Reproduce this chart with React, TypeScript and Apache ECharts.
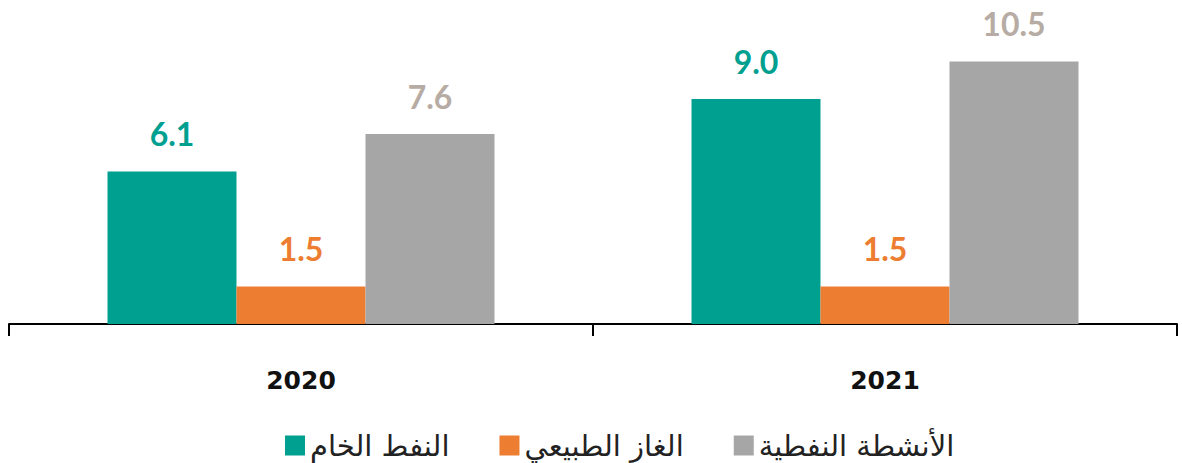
import React, { useEffect, useRef } from "react";
import * as echarts from "echarts";

const years = ["2020", "2021"];
const seriesNames = ["النفط الخام", "الغاز الطبيعي", "الأنشطة النفطية"];
const crudeOil = [6.1, 9.0];
const naturalGas = [1.5, 1.5];
const oilActivities = [7.6, 10.5];

const barColors = ["#00A090", "#ED7D31", "#A6A6A6"];
const labelColors = ["#00A090", "#ED7D31", "#B7ACA3"];

export default function App() {
  const ref = useRef<HTMLDivElement>(null);
  useEffect(() => {
    if (!ref.current) return;
    const chart = echarts.init(ref.current, null, { renderer: "svg" });
    const data = [crudeOil, naturalGas, oilActivities];
    chart.setOption({
      animation: false,
      grid: { left: 9, right: 5, top: 24, bottom: 139, containLabel: false },
      legend: {
        data: seriesNames,
        top: 426,
        left: 280,
        itemWidth: 20,
        itemHeight: 20,
        itemGap: 50,
        textStyle: { fontFamily: "DejaVu Sans", fontSize: 29, color: "#222" },
        icon: "rect",
      },
      xAxis: {
        type: "category",
        data: years,
        axisLine: { show: true, lineStyle: { color: "#000", width: 2 } },
        axisTick: { show: true, inside: false, length: 12, lineStyle: { color: "#000", width: 2 } },
        axisLabel: {
          margin: 44,
          fontFamily: "DejaVu Sans",
          fontWeight: "bold",
          fontSize: 25,
          color: "#111",
        },
      },
      yAxis: {
        type: "value",
        min: 0,
        max: 12,
        show: false,
        splitLine: { show: false },
      },
      series: seriesNames.map((name, i) => ({
        name,
        type: "bar",
        data: data[i],
        barWidth: 129,
        barGap: "0%",
        itemStyle: { color: barColors[i] },
        label: {
          show: true,
          position: "top",
          distance: 22,
          formatter: (p: any) => Number(p.value).toFixed(1),
          fontFamily: "Lato",
          fontWeight: "bold",
          fontSize: 32,
          color: labelColors[i],
        },
      })),
    });
    return () => chart.dispose();
  }, []);
  return <div ref={ref} style={{ width: 1182, height: 463, position: "absolute", left: 0, top: 0 }} />;
}
